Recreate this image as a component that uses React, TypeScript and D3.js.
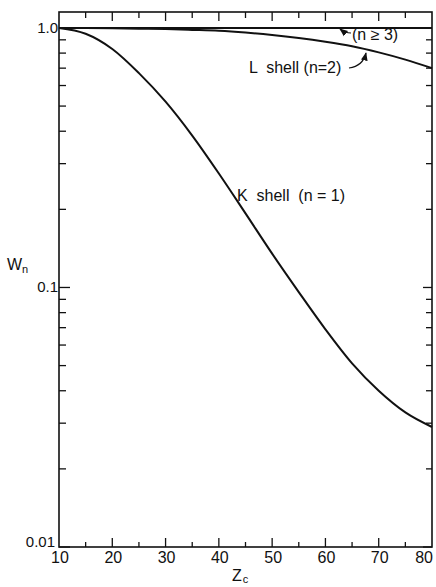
import * as d3 from 'd3';

// Z_c values where the curves were read
const zValues = [10, 15, 20, 25, 30, 35, 40, 45, 50, 55, 60, 65, 70, 75, 80];
// K shell (n=1)
const kShell = [1.0, 0.95, 0.83, 0.67, 0.52, 0.385, 0.275, 0.193, 0.135, 0.096, 0.069, 0.051, 0.04, 0.033, 0.029];
// L shell (n=2)
const lShell = [1.0, 0.999, 0.997, 0.994, 0.99, 0.983, 0.975, 0.96, 0.94, 0.915, 0.885, 0.85, 0.805, 0.755, 0.7];
// n >= 3
const nHigh = [1.0, 1.0];
const nHighZ = [10, 80];

const xTicks = [10, 20, 30, 40, 50, 60, 70, 80];
const yTickLabels = [
  { v: 1, label: '1.0' },
  { v: 0.1, label: '0.1' },
  { v: 0.01, label: '0.01' },
];

const W = 436;
const H = 587;
const left = 59;
const right = 432;
const top = 12;
const bottom = 547;

const font = '"Liberation Sans", Arial, sans-serif';

const App = () => {
  const x = d3.scaleLinear().domain([10, 80]).range([left, right]);
  const y = d3.scaleLog().domain([0.01, 1.152]).range([bottom, top]);

  const line = d3
    .line<[number, number]>()
    .x((d) => x(d[0]))
    .y((d) => y(d[1]))
    .curve(d3.curveMonotoneX);

  const kPath = line(zValues.map((z, i) => [z, kShell[i]]));
  const lPath = line(zValues.map((z, i) => [z, lShell[i]]));
  const nPath = d3
    .line<[number, number]>()
    .x((d) => x(d[0]))
    .y((d) => y(d[1]))(nHighZ.map((z, i) => [z, nHigh[i]]));

  // log ticks: majors at decades, minors at 2..9
  const logTicks: { v: number; major: boolean }[] = [];
  [0.01, 0.1].forEach((dec) => {
    for (let m = 1; m <= 9; m++) logTicks.push({ v: dec * m, major: m === 1 });
  });
  logTicks.push({ v: 1, major: true });

  const zTicks = d3.range(15, 80, 5);

  return (
    <svg
      width={W}
      height={H}
      style={{ position: 'absolute', left: 0, top: 0, background: '#fff' }}
      fontFamily={font}
    >
      <defs>
        <marker id='arr' viewBox='0 0 10 10' refX='9' refY='5' markerWidth='7' markerHeight='7' orient='auto'>
          <path d='M0,1 L10,5 L0,9 Z' fill='#111' />
        </marker>
      </defs>
      <rect x={0} y={0} width={W} height={H} fill='#fff' />

      {/* frame */}
      <rect x={left} y={top} width={right - left} height={bottom - top} fill='none' stroke='#111' strokeWidth={1.6} />

      {/* left & right log ticks */}
      {logTicks.map((t, i) => (
        <g key={'l' + i} stroke='#111' strokeWidth={1.3}>
          <line x1={left} x2={left + (t.major ? 11 : 7)} y1={y(t.v)} y2={y(t.v)} />
          <line x1={right} x2={right - (t.major ? 9 : 6)} y1={y(t.v)} y2={y(t.v)} />
        </g>
      ))}

      {/* top & bottom linear ticks */}
      {zTicks.map((z) => {
        const major = z % 10 === 0;
        return (
          <g key={'z' + z} stroke='#111' strokeWidth={1.3}>
            <line x1={x(z)} x2={x(z)} y1={bottom} y2={bottom - (major ? 9 : 5)} />
            <line x1={x(z)} x2={x(z)} y1={top} y2={top + (major ? 9 : 6)} />
          </g>
        );
      })}

      {/* curves */}
      <path d={nPath ?? ''} fill='none' stroke='#111' strokeWidth={2} />
      <path d={lPath ?? ''} fill='none' stroke='#111' strokeWidth={2} />
      <path d={kPath ?? ''} fill='none' stroke='#111' strokeWidth={2} />

      {/* y tick labels */}
      {yTickLabels.map((t) => (
        <text
          key={t.label}
          x={t.v === 0.01 ? left - 4 : left - 1}
          y={t.v === 0.01 ? y(t.v) : y(t.v) + 5}
          textAnchor='end'
          fontSize={15}
          fill='#111'
        >
          {t.label}
        </text>
      ))}

      {/* x tick labels */}
      {xTicks.map((z, i) => (
        <text
          key={z}
          x={i === xTicks.length - 1 ? x(z) + 1 : x(z) + 1}
          y={563}
          textAnchor={i === xTicks.length - 1 ? 'end' : 'middle'}
          fontSize={16}
          fill='#111'
        >
          {z}
        </text>
      ))}

      {/* axis titles */}
      <text x={7} y={270} fontSize={16} fill='#111'>
        W<tspan fontSize={11} dy={3}>n</tspan>
      </text>
      <text x={232} y={581} fontSize={16} fill='#111'>
        Z<tspan fontSize={11} dy={2} dx={1}>c</tspan>
      </text>

      {/* curve labels */}
      <text x={237} y={201} fontSize={16} fill='#111' style={{ whiteSpace: 'pre' }}>
        {'K  shell  (n = 1)'}
      </text>
      <text x={249} y={73} fontSize={16} fill='#111' style={{ whiteSpace: 'pre' }}>
        {'L  shell (n=2)'}
      </text>
      <text x={352} y={40} fontSize={16} fill='#111' style={{ whiteSpace: 'pre' }}>
        {'(n ≥ 3)'}
      </text>

      {/* pointer arrows */}
      <path d='M351,33 Q345,33 340,29' fill='none' stroke='#111' strokeWidth={1.2} markerEnd='url(#arr)' />
      <path d='M349,68 Q363,66 366,53' fill='none' stroke='#111' strokeWidth={1.2} markerEnd='url(#arr)' />
    </svg>
  );
};

export default App;
